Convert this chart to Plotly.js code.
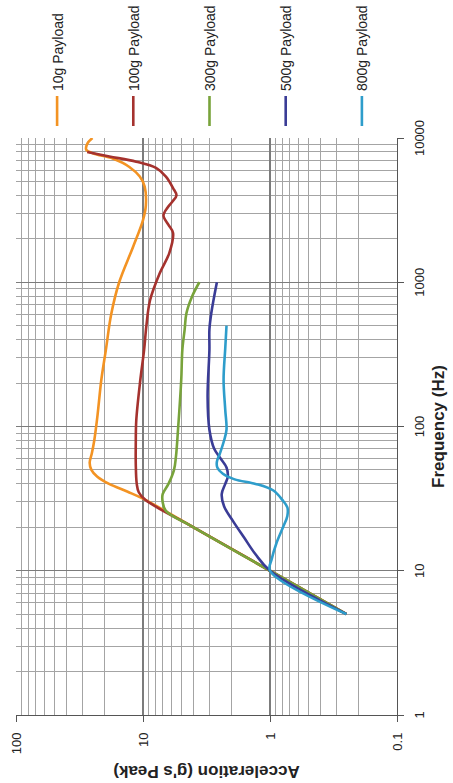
<!DOCTYPE html>
<html><head><meta charset="utf-8">
<script src="https://cdn.plot.ly/plotly-3.0.1.min.js"></script>
<style>
html,body{margin:0;padding:0;width:453px;height:783px;overflow:hidden;background:#fff;}
#chart{position:absolute;left:0;top:0;width:783px;height:453px;transform-origin:0 0;transform:translate(0px,783px) rotate(-90deg);}
</style></head><body><div id="chart"></div>
<script>
const seriesNames = ['10g Payload','100g Payload','300g Payload','500g Payload','800g Payload'];
const seriesColors = ['#F39323','#A5322E','#78A33B','#3A3C96','#2E9DCB'];

const freq10g = [5,10,20,31.6,35.3,40,45,50,56,65,80,120,210,340,600,1000,1750,2700,3400,4600,5400,6300,7200,7800,8300,9200,10000];
const acc10g  = [0.25,1,4,10,13.2,18.5,23,25.5,26.3,25.3,24.2,22.8,21.3,19.6,17.8,15.4,12.0,10.0,9.5,9.7,10.6,12.8,17.3,24.5,28,27.3,25];

const freq100g = [5,10,20,31,35,40,55,75,110,210,340,500,750,1150,1600,2200,2500,2900,3300,3600,4000,4500,5400,6200,6850,7450,8000];
const acc100g  = [0.25,1,4,9.6,10.8,11.2,11.4,11.4,11.3,10.5,9.8,9.4,8.8,7.4,6.2,5.8,6.3,6.9,6.4,5.9,5.45,5.8,6.6,7.9,11.3,18.4,27.5];

const freq300g = [5,10,20,26,30,34,40,50,62,95,210,340,470,610,800,1000];
const acc300g  = [0.25,1,4,6.6,7.0,7.0,6.3,5.7,5.5,5.3,5.0,4.9,4.7,4.55,4.1,3.6];

const freq500g = [5,10,13,17,22,28,34,40,45,52,60,70,95,160,340,470,610,1000];
const acc500g  = [0.25,1,1.3,1.6,1.95,2.3,2.4,2.25,2.15,2.2,2.45,2.75,3.0,3.1,3.0,3.0,2.9,2.62];

const freq800g = [5,10,12,15.5,20,24,27.5,31,36,40,43,47,52,57,65,80,95,130,210,350,500];
const acc800g  = [0.25,1,0.97,0.89,0.79,0.73,0.73,0.8,0.94,1.3,1.9,2.35,2.6,2.62,2.48,2.3,2.2,2.25,2.32,2.25,2.2];

const freqTickVals = [1,10,100,1000,10000];
const freqTickText = ['1','10','100','1000','10000'];
const accTickVals = [0.1,1,10,100];
const accTickText = ['0.1','1','10','100'];

const freqs = [freq10g,freq100g,freq300g,freq500g,freq800g];
const accs = [acc10g,acc100g,acc300g,acc500g,acc800g];

const FONT = 'Liberation Sans, Arial, Helvetica, sans-serif';
const traces = seriesNames.map((n,i)=>({
  type:'scatter', mode:'lines', name:n, x:freqs[i], y:accs[i],
  legendgroup:'g'+i,
  line:{color:seriesColors[i], width:2.6, shape:'spline', smoothing:1}
}));

const gridMajor = '#7c7c7c', gridMinor = '#a4a4a4';
const layout = {
  width:783, height:453,
  margin:{l:68, r:138, t:16, b:56},
  paper_bgcolor:'#fff', plot_bgcolor:'#fff',
  font:{family:FONT, color:'#222', size:13},
  showlegend:true,
  legend:{xref:'container', yref:'container', x:1, y:0.9084, xanchor:'right', yanchor:'top', maxheight:430,
          font:{size:14, family:FONT, color:'#222'},
          tracegroupgap:55, traceorder:'grouped', bgcolor:'rgba(0,0,0,0)', itemwidth:30},
  xaxis:{type:'log', range:[0,4], tickmode:'array', tickvals:freqTickVals, ticktext:freqTickText,
         ticks:'outside', ticklen:6, tickcolor:'#555', showline:true, linecolor:'#555', linewidth:1,
         showgrid:true, gridcolor:gridMajor, gridwidth:1.1, zeroline:false,
         minor:{dtick:'D1', showgrid:true, gridcolor:gridMinor, gridwidth:1, ticks:''},
         tickfont:{size:13, family:FONT}, ticklabelstandoff:4,
         title:{text:'Frequency (Hz)', font:{size:17, family:FONT, color:'#222', weight:'bold'}, standoff:6}},
  yaxis:{type:'log', range:[-1,2], tickmode:'array', tickvals:accTickVals, ticktext:accTickText,
         ticks:'outside', ticklen:6, tickcolor:'#555', showline:true, linecolor:'#555', linewidth:1,
         showgrid:true, gridcolor:gridMajor, gridwidth:1.1, zeroline:false,
         minor:{dtick:'D1', showgrid:true, gridcolor:gridMinor, gridwidth:1, ticks:''},
         tickfont:{size:13, family:FONT}, ticklabelstandoff:8,
         title:{text:"Acceleration (g's Peak)", font:{size:17, family:FONT, color:'#222', weight:'bold'}, standoff:6}}
};
Plotly.newPlot('chart', traces, layout, {staticPlot:true, displayModeBar:false});
</script></body></html>
